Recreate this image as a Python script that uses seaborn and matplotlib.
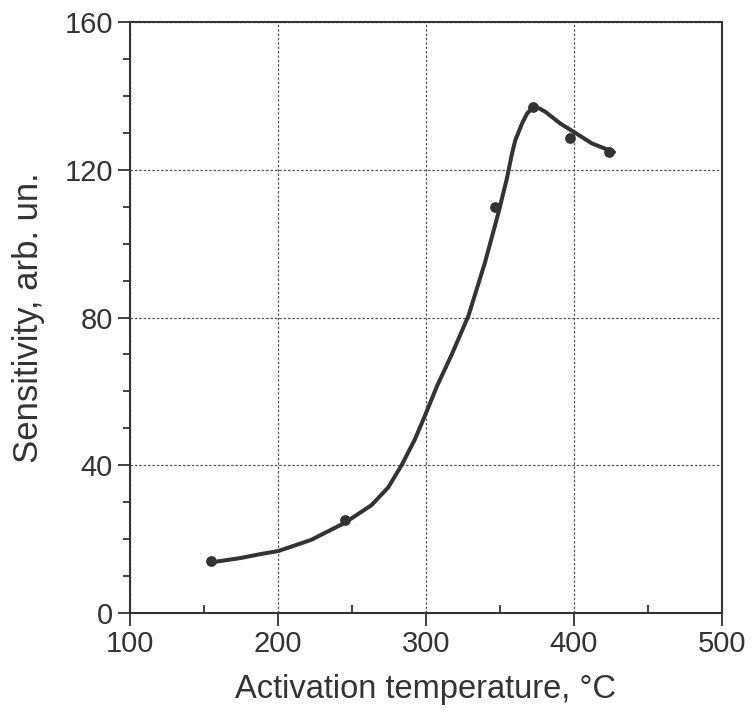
import matplotlib
matplotlib.use("Agg")
import matplotlib.pyplot as plt
import seaborn as sns
import pandas as pd
from matplotlib.ticker import MultipleLocator
from matplotlib import font_manager

# measured points
temp_pts = [154.9, 245.7, 346.4, 372.4, 397.6, 423.6]
sens_pts = [14.1, 25.2, 109.9, 137.0, 128.6, 124.8]

# hand-drawn fitting curve
curve_x = [158.3, 175, 189, 200.5, 222.6, 245.2, 263.3, 274.6, 283.6, 292.6, 300,
           307.5, 317.5, 328.8, 340, 349.1, 354.7, 358.1, 360.4, 364.9, 368.3,
           372.4, 376.2, 380.7, 390.9, 401.7, 412.3, 427]
curve_y = [13.9, 14.9, 16.0, 16.8, 19.8, 24.4, 29.2, 34.0, 40.0, 47.0, 54.0,
           61.4, 70.0, 80.5, 95.0, 108.5, 117.6, 124.3, 128.0, 132.5, 135.2,
           137.0, 136.7, 135.7, 132.5, 129.8, 127.1, 124.8]

x_ticks = [100, 200, 300, 400, 500]
y_ticks = [0, 40, 80, 120, 160]
x_label = "Activation temperature, °C"
y_label = "Sensitivity, arb. un."

sns.set_style("ticks")
plt.rcParams["font.family"] = ["Liberation Sans", "DejaVu Sans"]
ink = "#333333"
plt.rcParams["text.color"] = ink
plt.rcParams["axes.labelcolor"] = ink
plt.rcParams["xtick.color"] = ink
plt.rcParams["ytick.color"] = ink

names = {f.name for f in font_manager.fontManager.ttflist}
if "Liberation Sans Narrow" in names:
    tick_family, tick_size = "Liberation Sans Narrow", 24
else:
    tick_family, tick_size = "Liberation Sans", 21

fig = plt.figure(figsize=(7.53, 7.12), dpi=100)
ax = fig.add_axes([0.172, 0.139, 0.787, 0.830])

curve = pd.DataFrame({"x": curve_x, "y": curve_y})
pts = pd.DataFrame({"x": temp_pts, "y": sens_pts})

sns.lineplot(data=curve, x="x", y="y", sort=False, ax=ax, color=ink, lw=2.9,
             solid_joinstyle="round", solid_capstyle="round", zorder=3)
sns.scatterplot(data=pts, x="x", y="y", ax=ax, color=ink, s=60, edgecolor=ink,
                linewidth=0, zorder=4)

ax.set_xlim(100, 500)
ax.set_ylim(0, 160)
ax.set_xticks(x_ticks)
ax.set_yticks(y_ticks)
ax.xaxis.set_minor_locator(MultipleLocator(50))
ax.yaxis.set_minor_locator(MultipleLocator(10))
ax.tick_params(axis="x", which="major", direction="out", length=9, width=1.3, pad=3)
ax.tick_params(axis="x", which="minor", direction="in", length=6, width=1.3)
ax.tick_params(axis="y", which="major", direction="out", length=9, width=1.3, pad=3)
ax.tick_params(axis="y", which="minor", direction="out", length=5, width=1.3)
for lab in ax.get_xticklabels() + ax.get_yticklabels():
    lab.set_fontfamily([tick_family, "DejaVu Sans"])
    lab.set_fontsize(tick_size)

ax.grid(True, which="major", color="#555555", linestyle=(0, (2, 1.5)), lw=0.9)
for s in ax.spines.values():
    s.set_visible(True)
    s.set_color(ink)
    s.set_linewidth(1.5)

ax.set_xlabel(x_label, fontsize=23.5, labelpad=12)
ax.set_ylabel(y_label, fontsize=25, labelpad=14)

fig.savefig("out.png", dpi=100)
